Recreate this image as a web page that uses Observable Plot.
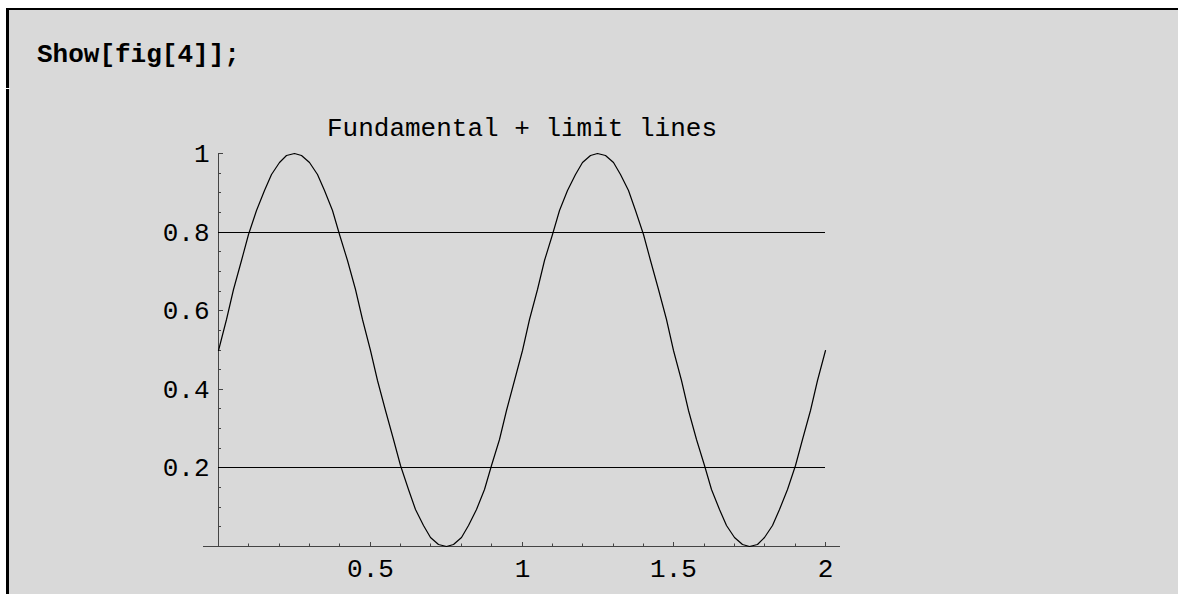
<!DOCTYPE html>
<html><head><meta charset="utf-8">
<script src="https://cdn.jsdelivr.net/npm/d3@7"></script>
<script src="https://cdn.jsdelivr.net/npm/@observablehq/plot@0.6"></script>
<style>
html,body{margin:0;padding:0;background:#fff;width:1178px;height:594px;overflow:hidden;}
#cell{position:absolute;left:6px;top:8px;width:1172px;height:586px;background:#d9d9d9;border-top:2px solid #000;border-left:3px solid #000;box-sizing:border-box;}
#notch{position:absolute;left:6px;top:88px;width:4px;height:1px;background:#fff;}
#input{position:absolute;left:37px;top:42px;font:bold 26px/26px "Liberation Mono",monospace;color:#000;white-space:pre;}
#chart{position:absolute;left:0;top:100px;}
</style></head>
<body>
<div id="cell"></div>
<div id="notch"></div>
<div id="input">Show[fig[4]];</div>
<div id="chart"></div>
<script>
const title = "Fundamental + limit lines";
const xs = [0,0.025,0.05,0.075,0.1,0.125,0.15,0.175,0.2,0.225,0.25,0.275,0.3,0.325,0.35,0.375,0.4,0.425,0.45,0.475,
            0.5,0.525,0.55,0.575,0.6,0.625,0.65,0.675,0.7,0.725,0.75,0.775,0.8,0.825,0.85,0.875,0.9,0.925,0.95,0.975,
            1,1.025,1.05,1.075,1.1,1.125,1.15,1.175,1.2,1.225,1.25,1.275,1.3,1.325,1.35,1.375,1.4,1.425,1.45,1.475,
            1.5,1.525,1.55,1.575,1.6,1.625,1.65,1.675,1.7,1.725,1.75,1.775,1.8,1.825,1.85,1.875,1.9,1.925,1.95,1.975,2];
const ys = [0.5,0.578,0.655,0.727,0.794,0.854,0.905,0.946,0.976,0.994,1,0.994,0.976,0.946,0.905,0.854,0.794,0.727,0.655,0.578,
            0.5,0.422,0.345,0.273,0.206,0.146,0.095,0.054,0.024,0.006,0,0.006,0.024,0.054,0.095,0.146,0.206,0.273,0.345,0.422,
            0.5,0.578,0.655,0.727,0.794,0.854,0.905,0.946,0.976,0.994,1,0.994,0.976,0.946,0.905,0.854,0.794,0.727,0.655,0.578,
            0.5,0.422,0.345,0.273,0.206,0.146,0.095,0.054,0.024,0.006,0,0.006,0.024,0.054,0.095,0.146,0.206,0.273,0.345,0.422,0.5];
const limits = [0.2, 0.8];
const xMajor = [0.5, 1, 1.5, 2];
const xLabels = ["0.5", "1", "1.5", "2"];
const xMinor = [0.1,0.2,0.3,0.4,0.6,0.7,0.8,0.9,1.1,1.2,1.3,1.4,1.6,1.7,1.8,1.9];
const yMajor = [0.2, 0.4, 0.6, 0.8, 1];
const yLabels = ["0.2", "0.4", "0.6", "0.8", "1"];
const yMinor = [0.05,0.1,0.15,0.25,0.3,0.35,0.45,0.5,0.55,0.65,0.7,0.75,0.85,0.9,0.95];

const curve = xs.map((x, i) => ({x, y: ys[i]}));
const axisColor = "#444";
const font = "Liberation Mono, monospace";

const chart = Plot.plot({
  width: 1178, height: 494,
  marginLeft: 218, marginRight: 353, marginTop: 53, marginBottom: 48,
  x: {domain: [0, 2], axis: null, round: true},
  y: {domain: [0, 1], axis: null, round: true},
  style: {background: "transparent", fontFamily: font, fontSize: "26px", color: "#000", overflow: "visible"},
  marks: [
    // axes
    Plot.ruleY([0], {x1: 0, x2: 2, insetLeft: -15, insetRight: -15, stroke: axisColor}),
    Plot.ruleX([0], {y1: 0, y2: 1, stroke: axisColor}),
    // x ticks (pointing up)
    Plot.ruleX(xMinor, {x: d => d, y1: 0, y2: 0, insetTop: -2.5, stroke: axisColor}),
    Plot.ruleX(xMajor, {x: d => d, y1: 0, y2: 0, insetTop: -4, stroke: axisColor}),
    // y ticks (pointing right)
    Plot.ruleY(yMinor, {y: d => d, x1: 0, x2: 0, insetRight: -3, stroke: axisColor}),
    Plot.ruleY(yMajor, {y: d => d, x1: 0, x2: 0, insetRight: -5, stroke: axisColor}),
    // tick labels
    Plot.text(xMajor, {x: d => d, y: 0, text: (d, i) => xLabels[i], dy: 22, lineAnchor: "middle", fill: "#000"}),
    Plot.text(yMajor, {x: 0, y: d => d, text: (d, i) => yLabels[i], dx: -9, textAnchor: "end", lineAnchor: "middle", fill: "#000"}),
    // limit lines
    Plot.ruleY(limits, {x1: 0, x2: 2, stroke: "#000", strokeWidth: 1}),
    // fundamental
    Plot.line(curve, {x: "x", y: "y", stroke: "#000", strokeWidth: 1.2}),
    // title
    Plot.text([title], {frameAnchor: "top", dy: -18, lineAnchor: "bottom", text: d => d, fill: "#000"})
  ]
});
document.getElementById("chart").appendChild(chart);
</script>
</body></html>
